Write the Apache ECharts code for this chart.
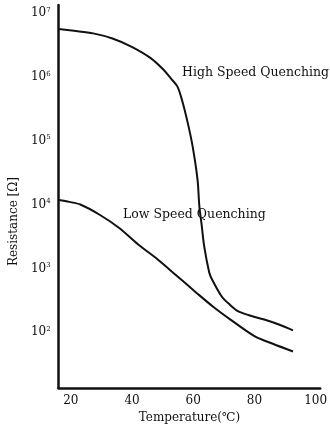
<!DOCTYPE html>
<html>
<head>
<meta charset="utf-8">
<script src="https://cdn.jsdelivr.net/npm/echarts@6/dist/echarts.min.js"></script>
<style>html,body{margin:0;padding:0;background:#fff;}#c{width:330px;height:429px;}</style>
</head>
<body>
<div id="c"></div>
<script>
// Temperature (°C) and resistance (Ω)
var highT = [16, 21, 27.3, 33.6, 39.9, 46.2, 50.3, 52.6, 54.8, 56.3, 58.2, 59.8, 61.4, 62.0, 62.7, 63.6, 65.2, 66.1, 69.3, 72, 74.6, 78, 83.2, 88, 92.6];
var highR = [5600000, 5250000, 4790000, 3980000, 2950000, 1950000, 1290000, 955000, 708000, 437000, 190000, 81300, 24500, 9330, 5010, 2190, 871, 676, 363, 269, 214, 186, 158, 132, 107];
var lowT = [16, 19.5, 23.1, 29.4, 35.7, 42.0, 48.4, 54.7, 61.0, 66.5, 72.4, 80.0, 86, 92.6];
var lowR = [11750, 11000, 10000, 6920, 4325, 2371, 1380, 759, 417, 251, 155, 87, 66, 50];
var xTicks = [20, 40, 60, 80, 100];
var yName = 'Resistance [Ω]';
var xName = 'Temperature(℃)';
var labels = ['High Speed Quenching', 'Low Speed Quenching'];

function pairs(xs, ys) { return xs.map(function (x, i) { return [x, ys[i]]; }); }

var FONT = 'DejaVu Serif';
var chart = echarts.init(document.getElementById('c'), null, { renderer: 'canvas' });
chart.setOption({
  animation: false,
  backgroundColor: '#fff',
  grid: { left: 54, right: 5, top: 5, bottom: 40 },
  xAxis: {
    type: 'value', min: 16, max: 101.5, minInterval: 20, maxInterval: 20,
    axisLine: { lineStyle: { color: '#111', width: 2.5 } },
    axisTick: { show: false },
    splitLine: { show: false },
    axisLabel: {
      color: '#111', fontFamily: FONT, fontSize: 12, margin: 7,
      formatter: function (v) { return xTicks.indexOf(Math.round(v * 1000) / 1000) >= 0 ? String(v) : ''; }
    },
    name: xName, nameLocation: 'middle', nameGap: 23,
    nameTextStyle: { color: '#111', fontFamily: FONT, fontSize: 12 }
  },
  yAxis: {
    type: 'log', logBase: 10, min: 13.34, max: 13335214,
    axisLine: { lineStyle: { color: '#111', width: 2.5 } },
    axisTick: { show: false },
    splitLine: { show: false },
    axisLabel: {
      color: '#111', fontFamily: FONT, margin: 8,
      formatter: function (v) {
        var l = Math.log10(v), e = Math.round(l);
        if (Math.abs(l - e) > 1e-6) return '';
        return '{b|10}{s|' + e + '}';
      },
      rich: {
        b: { fontFamily: FONT, fontSize: 12, color: '#111' },
        s: { fontFamily: FONT, fontSize: 7, color: '#111', padding: [0, 0, 6, 0] }
      }
    },
    name: yName, nameLocation: 'middle', nameGap: 36, nameRotate: 90,
    nameTextStyle: { color: '#111', fontFamily: FONT, fontSize: 12, padding: [0, 50, 0, 0] }
  },
  series: [
    { type: 'line', data: pairs(highT, highR), showSymbol: false, smooth: 0.3,
      lineStyle: { color: '#111', width: 2 } },
    { type: 'line', data: pairs(lowT, lowR), showSymbol: false, smooth: 0.3,
      lineStyle: { color: '#111', width: 2 } }
  ],
  graphic: [
    { type: 'text', left: 182, top: 66, style: { text: labels[0], font: '12.5px "DejaVu Serif"', fill: '#111' } },
    { type: 'text', left: 123, top: 208, style: { text: labels[1], font: '12.5px "DejaVu Serif"', fill: '#111' } }
  ]
});
</script>
</body>
</html>
